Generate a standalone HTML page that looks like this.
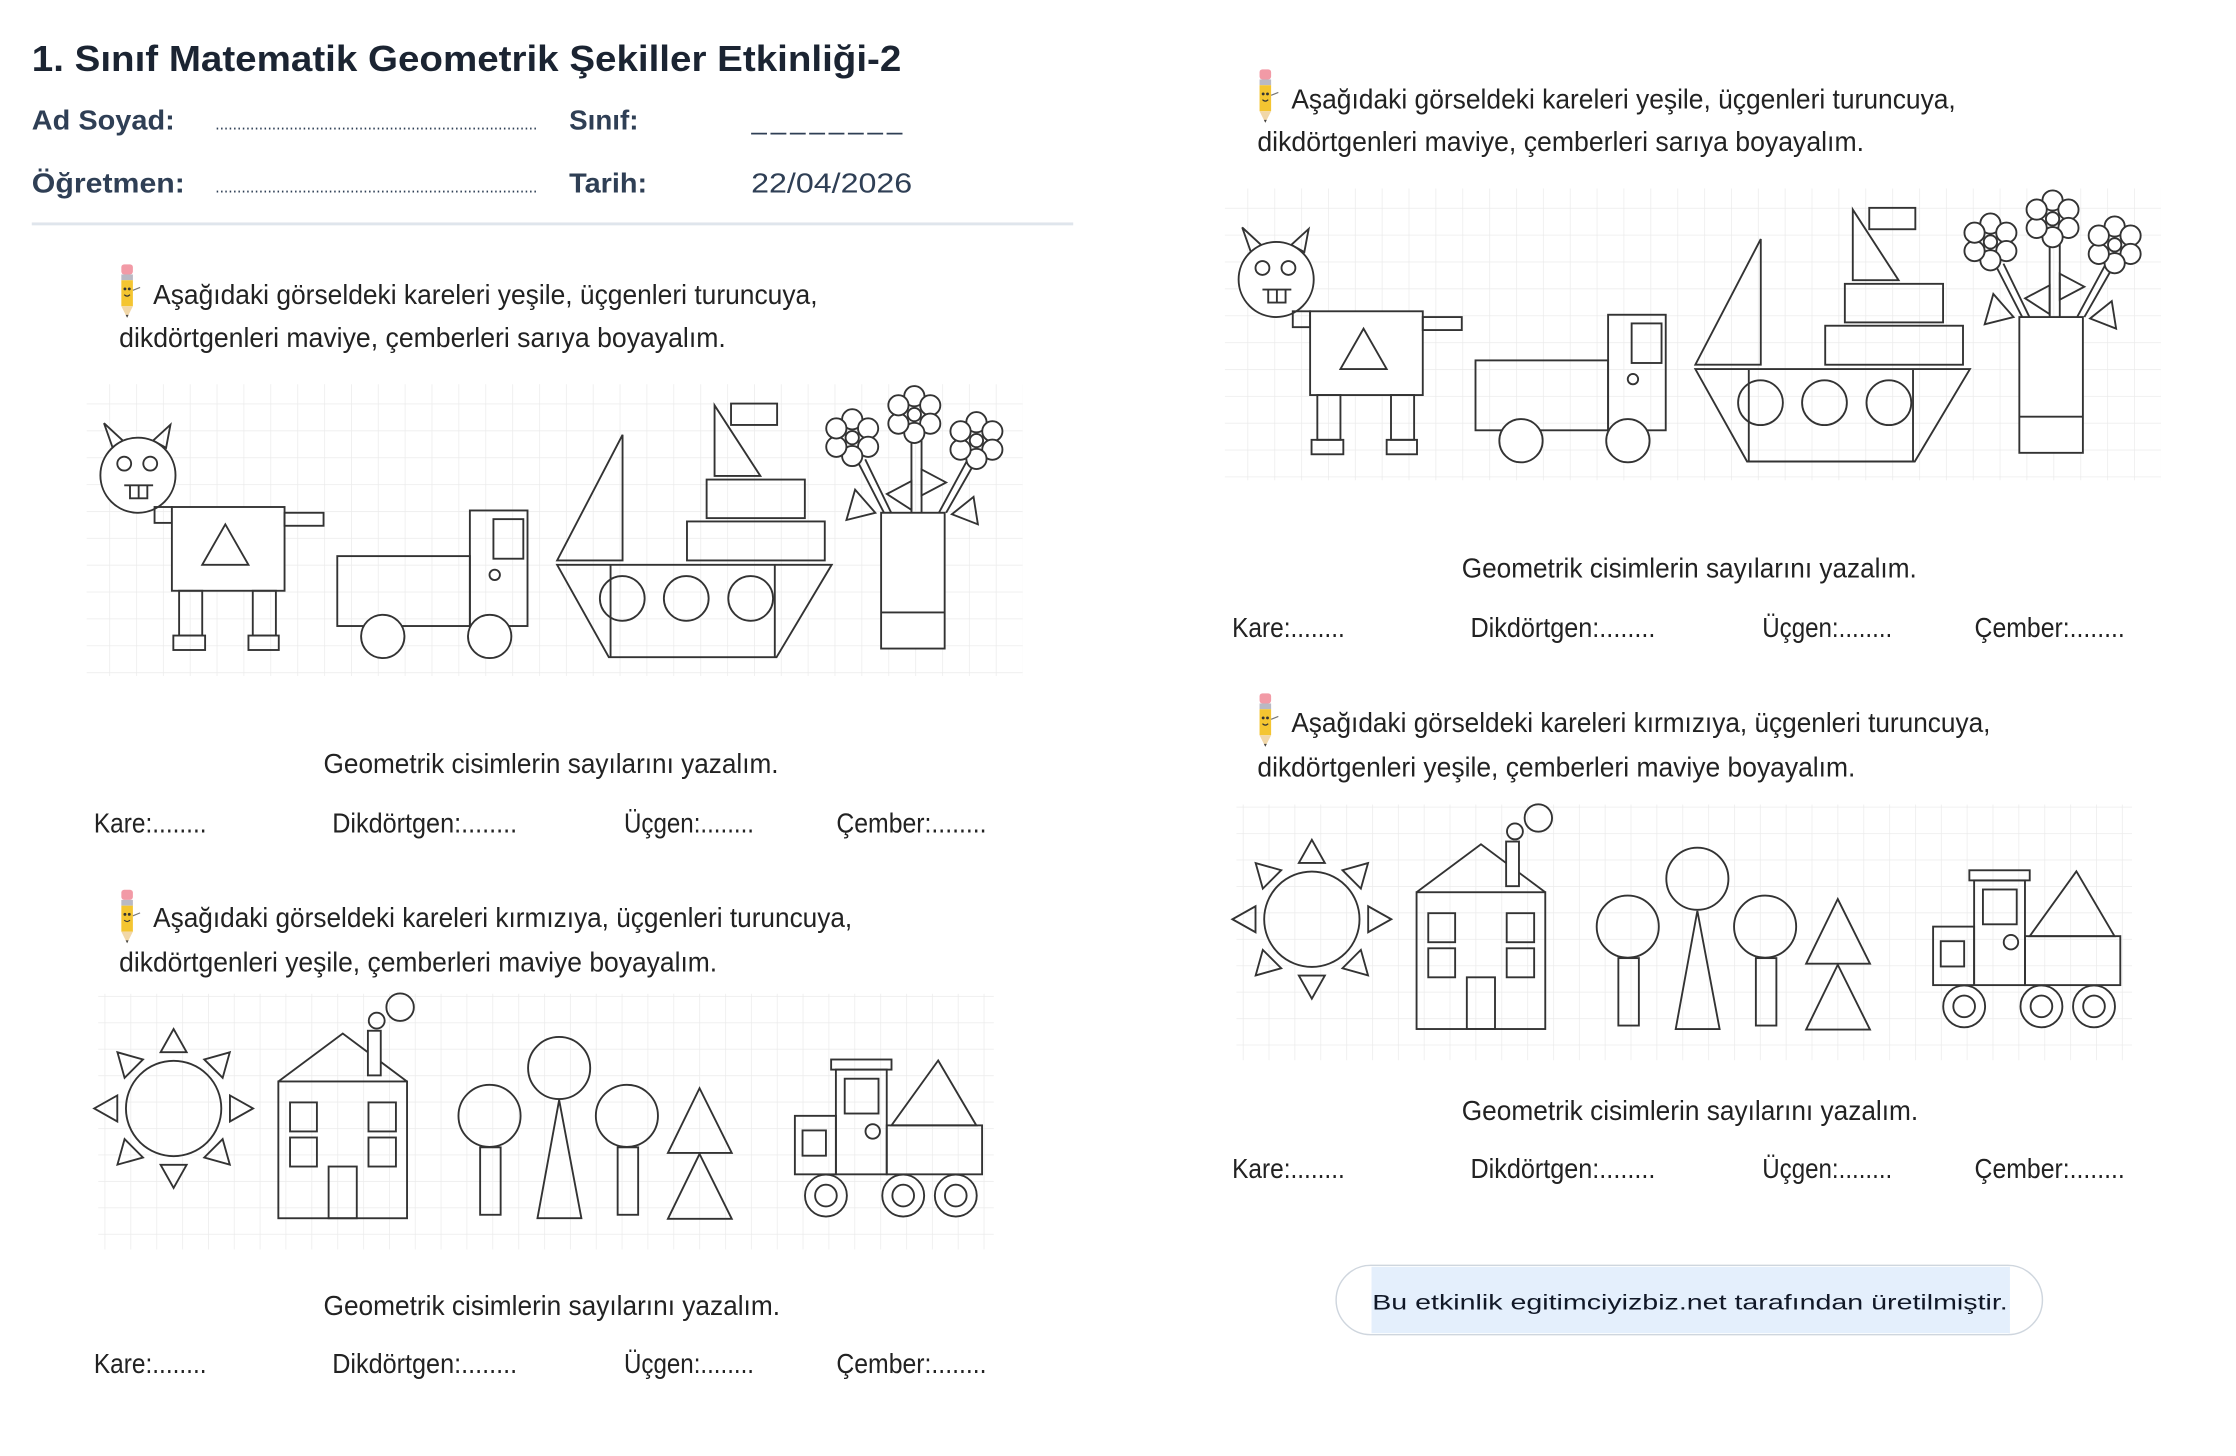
<!DOCTYPE html>
<html><head><meta charset="utf-8"><style>
html,body{margin:0;padding:0;background:#fff;}
svg{display:block;}
</style></head><body>
<svg width="2236" height="1456" viewBox="0 0 1548 1008" xmlns="http://www.w3.org/2000/svg">
<defs>
<pattern id="p1" patternUnits="userSpaceOnUse" x="243" y="298" width="18.6" height="18.6">
<path d="M0 0V18.6M0 0H18.6" stroke="#ebebeb" stroke-width="1" fill="none"/></pattern>
<pattern id="p2" patternUnits="userSpaceOnUse" x="72.4" y="707.8" width="17.9" height="18.3">
<path d="M0 0V18.3M0 0H17.9" stroke="#ebebeb" stroke-width="1" fill="none"/></pattern>
<g id="pencil">
<rect x="5" y="0" width="8" height="7" rx="2" fill="#f29aa6"/>
<rect x="5" y="7" width="8" height="4" fill="#b9b9c4"/>
<rect x="5" y="11" width="8" height="18" fill="#f4c531"/>
<circle cx="7.5" cy="17" r="1" fill="#333"/><circle cx="10.5" cy="17" r="1" fill="#333"/>
<path d="M7 21 Q9 23 11 21" stroke="#333" stroke-width="0.8" fill="none"/>
<path d="M5 29 L9 37 L13 29Z" fill="#f1d7a8"/>
<path d="M8 35 L9 37 L10 35Z" fill="#444"/>
<path d="M13 18 L18 16" stroke="#777" stroke-width="0.8"/>
</g>
<g id="g1" fill="none" stroke="#333" stroke-width="1.3">
<rect x="60" y="266" width="648" height="202" fill="url(#p1)" stroke="none"/>
<path d="M72 293 L78 310 L85 305Z M118 294 L115 310 L106 305Z"/>
<circle cx="95.5" cy="329" r="26" fill="#fff"/>
<circle cx="86" cy="321" r="4.8"/><circle cx="104" cy="321" r="4.8"/>
<path d="M86 336 H106 M90 336 V345 H102 V336 M96 336 V345"/>
<rect x="107" y="351" width="12" height="11"/>
<rect x="119" y="351" width="78" height="58" fill="#fff"/>
<path d="M156 363 L140 391 L172 391Z"/>
<rect x="197" y="355" width="27" height="9"/>
<rect x="124" y="409" width="16" height="31"/><rect x="175" y="409" width="16" height="31"/>
<rect x="120" y="440" width="22" height="10"/><rect x="172" y="440" width="21" height="10"/>
<rect x="233.5" y="385" width="91.8" height="48.4"/>
<rect x="325.3" y="353.4" width="39.9" height="80"/>
<rect x="341.6" y="359.4" width="20.7" height="27.4"/>
<circle cx="342.5" cy="398" r="3.6"/>
<circle cx="265" cy="440.6" r="15" fill="#fff"/><circle cx="339" cy="440.6" r="15" fill="#fff"/>
<path d="M431 301 L431 388 L385.7 388Z"/>
<path d="M385.7 391 H575.8 L537.6 455 H421.5Z"/>
<path d="M422.7 391 V455 M536.4 391 V455"/>
<circle cx="430.8" cy="414.3" r="15.5"/><circle cx="475.1" cy="414.3" r="15.5"/><circle cx="519.7" cy="414.3" r="15.5"/>
<rect x="475.6" y="361" width="95.4" height="27"/>
<rect x="489.2" y="332" width="68" height="26.7"/>
<path d="M494.7 280.6 V329.5 H526.4Z"/>
<rect x="506.1" y="279.4" width="31.9" height="14.8"/>
<path d="M592 339 L586 360 L606 355Z M614 342 L631 333 L631 353Z M638 325 L655 334 L638 343Z M674 344 L677 363 L659 356Z"/>
<path d="M594 320 L612 355 M599 318 L617 355 M631 298 V355 M638 298 V355 M670 318 L650 355 M675 320 L655 355"/>
<g fill="#fff">
<circle cx="590" cy="290.3" r="7"/><circle cx="601" cy="296.6" r="7"/><circle cx="601" cy="309.3" r="7"/><circle cx="590" cy="315.7" r="7"/><circle cx="579" cy="309.3" r="7"/><circle cx="579" cy="296.6" r="7"/><circle cx="590" cy="303" r="4.6"/>
<circle cx="633" cy="274.3" r="7"/><circle cx="644" cy="280.6" r="7"/><circle cx="644" cy="293.3" r="7"/><circle cx="633" cy="299.7" r="7"/><circle cx="622" cy="293.3" r="7"/><circle cx="622" cy="280.6" r="7"/><circle cx="633" cy="287" r="4.6"/>
<circle cx="676" cy="292.3" r="7"/><circle cx="687" cy="298.6" r="7"/><circle cx="687" cy="311.3" r="7"/><circle cx="676" cy="317.7" r="7"/><circle cx="665" cy="311.3" r="7"/><circle cx="665" cy="298.6" r="7"/><circle cx="676" cy="305" r="4.6"/>
</g>
<rect x="610" y="355" width="44" height="94" fill="#fff"/>
<path d="M610 424 H654"/>
</g>
<g id="g2" fill="none" stroke="#333" stroke-width="1.3">
<rect x="68" y="688" width="620" height="177" fill="url(#p2)" stroke="none"/>
<circle cx="120.2" cy="767.4" r="33"/>
<g transform="translate(120.2 767.4)">
<path d="M0 -55 L-9 -39 L9 -39Z" transform="rotate(0)"/>
<path d="M0 -55 L-9 -39 L9 -39Z" transform="rotate(45)"/>
<path d="M0 -55 L-9 -39 L9 -39Z" transform="rotate(90)"/>
<path d="M0 -55 L-9 -39 L9 -39Z" transform="rotate(135)"/>
<path d="M0 -55 L-9 -39 L9 -39Z" transform="rotate(180)"/>
<path d="M0 -55 L-9 -39 L9 -39Z" transform="rotate(225)"/>
<path d="M0 -55 L-9 -39 L9 -39Z" transform="rotate(270)"/>
<path d="M0 -55 L-9 -39 L9 -39Z" transform="rotate(315)"/>
</g>
<path d="M192.7 748.7 L237.3 715.5 L281.8 748.7"/>
<rect x="254.7" y="713.6" width="8.9" height="30.9" fill="#fff"/>
<circle cx="260.8" cy="706.6" r="5.5"/><circle cx="277" cy="697.3" r="9.5"/>
<rect x="192.7" y="748.7" width="89.1" height="94.7"/>
<rect x="200.8" y="763.2" width="18.6" height="20.1"/><rect x="200.8" y="787.5" width="18.6" height="20.1"/>
<rect x="255.1" y="763.2" width="19" height="20.1"/><rect x="255.1" y="787.5" width="19" height="20.1"/>
<rect x="227.5" y="807.6" width="19.5" height="35.8"/>
<circle cx="338.9" cy="772.5" r="21.5"/><rect x="332.4" y="794.3" width="14.2" height="46.7"/>
<circle cx="387.1" cy="739.4" r="21.5"/><path d="M387.1 761.6 L372.1 843.4 H402.5Z"/>
<circle cx="434" cy="772.5" r="21.5"/><rect x="427.6" y="794.3" width="14.2" height="46.7"/>
<path d="M484.3 753.4 L462.4 798.2 H506.6Z M484.3 798.9 L462.4 843.8 H506.6Z"/>
<rect x="550.3" y="772.5" width="28.4" height="40.5"/>
<rect x="555.6" y="782.6" width="16.2" height="17.5"/>
<rect x="578.7" y="740.5" width="35.2" height="72.5"/>
<rect x="575.4" y="733.5" width="41.8" height="7"/>
<rect x="584.8" y="746.8" width="23.4" height="24.1"/>
<circle cx="604.2" cy="783.3" r="5"/>
<rect x="613.9" y="779.1" width="66" height="33.9"/>
<path d="M649.5 734.2 L617.2 779.1 H675.9Z"/>
<circle cx="571.8" cy="827.7" r="14.5" fill="#fff"/><circle cx="571.8" cy="827.7" r="7.5"/>
<circle cx="625.3" cy="827.7" r="14.5" fill="#fff"/><circle cx="625.3" cy="827.7" r="7.5"/>
<circle cx="661.7" cy="827.7" r="14.5" fill="#fff"/><circle cx="661.7" cy="827.7" r="7.5"/>
</g>
</defs>

<g font-family="Liberation Sans, sans-serif">
<text x="22" y="49" font-size="25" font-weight="bold" fill="#1b2432" textLength="602" lengthAdjust="spacingAndGlyphs">1. Sınıf Matematik Geometrik Şekiller Etkinliği-2</text>
<text x="22" y="89.7" font-size="19" font-weight="bold" fill="#2f3f55" textLength="99" lengthAdjust="spacingAndGlyphs">Ad Soyad:</text>
<text x="149" y="89.7" font-size="12" fill="#2f3f55" textLength="223" lengthAdjust="spacingAndGlyphs">..........................................................................</text>
<text x="394" y="89.7" font-size="19" font-weight="bold" fill="#2f3f55" textLength="48" lengthAdjust="spacingAndGlyphs">Sınıf:</text>
<path d="M520 92.5 H627" stroke="#2f3f55" stroke-width="1.2" stroke-dasharray="11 2.4"/>
<text x="22" y="133.4" font-size="19" font-weight="bold" fill="#2f3f55" textLength="106" lengthAdjust="spacingAndGlyphs">Öğretmen:</text>
<text x="149" y="133.4" font-size="12" fill="#2f3f55" textLength="223" lengthAdjust="spacingAndGlyphs">..........................................................................</text>
<text x="394" y="133.4" font-size="19" font-weight="bold" fill="#2f3f55" textLength="54" lengthAdjust="spacingAndGlyphs">Tarih:</text>
<text x="520" y="133.4" font-size="19" fill="#2f3f55" textLength="111.5" lengthAdjust="spacingAndGlyphs">22/04/2026</text>
</g>
<rect x="22" y="154" width="721" height="2" fill="#dfe5ec"/>

<use href="#g1"/>
<use href="#g1" transform="translate(788,-135.5)"/>
<use href="#g2"/>
<use href="#g2" transform="translate(788,-131)"/>

<use href="#pencil" transform="translate(79,183)"/>
<use href="#pencil" transform="translate(79,616)"/>
<use href="#pencil" transform="translate(867,48)"/>
<use href="#pencil" transform="translate(867,480)"/>

<g font-family="Liberation Sans, sans-serif" font-size="19" fill="#222">
<text x="106" y="210.5" textLength="460" lengthAdjust="spacingAndGlyphs">Aşağıdaki görseldeki kareleri yeşile, üçgenleri turuncuya,</text>
<text x="82.5" y="240.2" textLength="420" lengthAdjust="spacingAndGlyphs">dikdörtgenleri maviye, çemberleri sarıya boyayalım.</text>
<text x="224" y="535.3" textLength="315" lengthAdjust="spacingAndGlyphs">Geometrik cisimlerin sayılarını yazalım.</text>
<text x="65" y="576.5" textLength="78" lengthAdjust="spacingAndGlyphs">Kare:........</text>
<text x="230" y="576.5" textLength="128" lengthAdjust="spacingAndGlyphs">Dikdörtgen:........</text>
<text x="432" y="576.5" textLength="90" lengthAdjust="spacingAndGlyphs">Üçgen:........</text>
<text x="579" y="576.5" textLength="104" lengthAdjust="spacingAndGlyphs">Çember:........</text>
<text x="106" y="641.6" textLength="484" lengthAdjust="spacingAndGlyphs">Aşağıdaki görseldeki kareleri kırmızıya, üçgenleri turuncuya,</text>
<text x="82.5" y="672.7" textLength="414" lengthAdjust="spacingAndGlyphs">dikdörtgenleri yeşile, çemberleri maviye boyayalım.</text>
<text x="224" y="910.5" textLength="316" lengthAdjust="spacingAndGlyphs">Geometrik cisimlerin sayılarını yazalım.</text>
<text x="65" y="950.6" textLength="78" lengthAdjust="spacingAndGlyphs">Kare:........</text>
<text x="230" y="950.6" textLength="128" lengthAdjust="spacingAndGlyphs">Dikdörtgen:........</text>
<text x="432" y="950.6" textLength="90" lengthAdjust="spacingAndGlyphs">Üçgen:........</text>
<text x="579" y="950.6" textLength="104" lengthAdjust="spacingAndGlyphs">Çember:........</text>
<text x="894" y="75" textLength="460" lengthAdjust="spacingAndGlyphs">Aşağıdaki görseldeki kareleri yeşile, üçgenleri turuncuya,</text>
<text x="870.5" y="104.7" textLength="420" lengthAdjust="spacingAndGlyphs">dikdörtgenleri maviye, çemberleri sarıya boyayalım.</text>
<text x="1012" y="399.8" textLength="315" lengthAdjust="spacingAndGlyphs">Geometrik cisimlerin sayılarını yazalım.</text>
<text x="853" y="441" textLength="78" lengthAdjust="spacingAndGlyphs">Kare:........</text>
<text x="1018" y="441" textLength="128" lengthAdjust="spacingAndGlyphs">Dikdörtgen:........</text>
<text x="1220" y="441" textLength="90" lengthAdjust="spacingAndGlyphs">Üçgen:........</text>
<text x="1367" y="441" textLength="104" lengthAdjust="spacingAndGlyphs">Çember:........</text>
<text x="894" y="506.6" textLength="484" lengthAdjust="spacingAndGlyphs">Aşağıdaki görseldeki kareleri kırmızıya, üçgenleri turuncuya,</text>
<text x="870.5" y="537.7" textLength="414" lengthAdjust="spacingAndGlyphs">dikdörtgenleri yeşile, çemberleri maviye boyayalım.</text>
<text x="1012" y="775.5" textLength="316" lengthAdjust="spacingAndGlyphs">Geometrik cisimlerin sayılarını yazalım.</text>
<text x="853" y="815.6" textLength="78" lengthAdjust="spacingAndGlyphs">Kare:........</text>
<text x="1018" y="815.6" textLength="128" lengthAdjust="spacingAndGlyphs">Dikdörtgen:........</text>
<text x="1220" y="815.6" textLength="90" lengthAdjust="spacingAndGlyphs">Üçgen:........</text>
<text x="1367" y="815.6" textLength="104" lengthAdjust="spacingAndGlyphs">Çember:........</text>
</g>

<rect x="925" y="876" width="489" height="48" rx="24" fill="#fff" stroke="#cfd6de" stroke-width="1"/>
<rect x="949.5" y="877" width="442" height="46" fill="#e4effc"/>
<text x="950" y="906.6" font-family="Liberation Sans, sans-serif" font-size="15" fill="#111827" textLength="440" lengthAdjust="spacingAndGlyphs">Bu etkinlik egitimciyizbiz.net tarafından üretilmiştir.</text>
</svg>
</body></html>
